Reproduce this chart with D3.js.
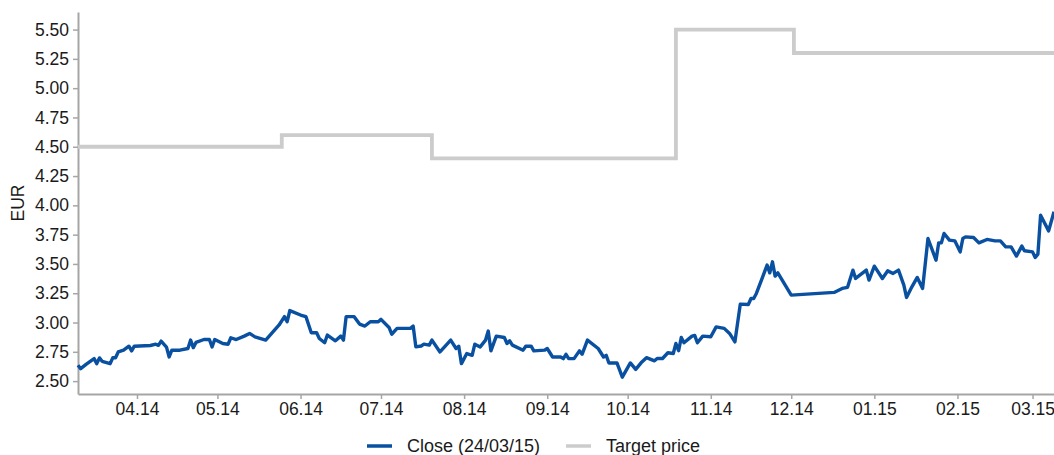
<!DOCTYPE html>
<html>
<head>
<meta charset="utf-8">
<script src="https://cdn.jsdelivr.net/npm/d3@7"></script>
<style>
  body { margin: 0; background: #fff; }
  svg text { font-family: "Liberation Sans", Arial, sans-serif; fill: #1a1a1a; }
</style>
</head>
<body>
<div id="chart"></div>
<script>
// closing prices
const closeDates = [
  "2014-03-10","2014-03-11","2014-03-13","2014-03-16","2014-03-17","2014-03-18","2014-03-19","2014-03-22","2014-03-23","2014-03-24",
  "2014-03-25","2014-03-27","2014-03-29","2014-03-30","2014-03-31","2014-04-06","2014-04-08","2014-04-09","2014-04-10","2014-04-12",
  "2014-04-13","2014-04-14","2014-04-17","2014-04-20","2014-04-21","2014-04-22","2014-04-23","2014-04-26","2014-04-28","2014-04-29",
  "2014-04-30","2014-05-03","2014-05-05","2014-05-06","2014-05-08","2014-05-11","2014-05-13","2014-05-15","2014-05-19","2014-05-24",
  "2014-05-26","2014-05-27","2014-05-28","2014-06-01","2014-06-03","2014-06-05","2014-06-07","2014-06-08","2014-06-10","2014-06-11",
  "2014-06-14","2014-06-16","2014-06-17","2014-06-18","2014-06-21","2014-06-23","2014-06-25","2014-06-27","2014-06-30","2014-07-01",
  "2014-07-04","2014-07-05","2014-07-07","2014-07-12","2014-07-13","2014-07-14","2014-07-16","2014-07-17","2014-07-19","2014-07-20",
  "2014-07-23","2014-07-27","2014-07-29","2014-07-30","2014-07-31","2014-08-02","2014-08-04","2014-08-05","2014-08-07","2014-08-09",
  "2014-08-10","2014-08-11","2014-08-13","2014-08-16","2014-08-17","2014-08-18","2014-08-19","2014-08-23","2014-08-24","2014-08-26",
  "2014-08-27","2014-08-31","2014-09-01","2014-09-03","2014-09-06","2014-09-07","2014-09-08","2014-09-09","2014-09-11","2014-09-13",
  "2014-09-14","2014-09-16","2014-09-20","2014-09-22","2014-09-23","2014-09-24","2014-09-27","2014-09-29","2014-10-02","2014-10-04",
  "2014-10-06","2014-10-08","2014-10-11","2014-10-12","2014-10-14","2014-10-16","2014-10-18","2014-10-19","2014-10-20","2014-10-21",
  "2014-10-22","2014-10-25","2014-10-26","2014-10-27","2014-10-29","2014-11-01","2014-11-03","2014-11-06","2014-11-08","2014-11-10",
  "2014-11-12","2014-11-15","2014-11-16","2014-11-17","2014-11-18","2014-11-20","2014-11-22","2014-11-23","2014-11-24","2014-11-25",
  "2014-11-26","2014-12-01","2014-12-17","2014-12-20","2014-12-22","2014-12-24","2014-12-25","2014-12-29","2014-12-30","2015-01-01",
  "2015-01-04","2015-01-06","2015-01-08","2015-01-10","2015-01-12","2015-01-13","2015-01-15","2015-01-17","2015-01-19","2015-01-21",
  "2015-01-24","2015-01-25","2015-01-26","2015-01-27","2015-01-29","2015-01-31","2015-02-02","2015-02-03","2015-02-04","2015-02-07",
  "2015-02-09","2015-02-12","2015-02-15","2015-02-17","2015-02-19","2015-02-21","2015-02-23","2015-02-25","2015-02-26","2015-03-01",
  "2015-03-02","2015-03-03","2015-03-04","2015-03-07","2015-03-09"
];
const closeValues = [
  2.635,2.606,2.643,2.692,2.649,2.698,2.669,2.649,2.70,2.70,
  2.749,2.764,2.798,2.758,2.798,2.804,2.815,2.805,2.841,2.79,
  2.706,2.764,2.764,2.778,2.85,2.786,2.83,2.855,2.855,2.792,
  2.855,2.821,2.815,2.87,2.855,2.884,2.907,2.878,2.85,2.979,
  3.05,3.007,3.102,3.064,3.05,2.913,2.913,2.864,2.827,2.893,
  2.844,2.884,2.85,3.05,3.05,2.987,2.97,3.007,3.007,3.027,
  2.958,2.90,2.95,2.95,2.97,2.792,2.80,2.815,2.807,2.85,
  2.749,2.85,2.778,2.798,2.649,2.735,2.72,2.815,2.792,2.85,
  2.927,2.758,2.884,2.872,2.821,2.844,2.807,2.764,2.798,2.798,
  2.758,2.764,2.778,2.706,2.706,2.692,2.729,2.692,2.692,2.758,
  2.729,2.85,2.778,2.706,2.72,2.655,2.655,2.534,2.655,2.60,
  2.656,2.70,2.673,2.693,2.693,2.742,2.736,2.821,2.759,2.873,
  2.827,2.884,2.89,2.827,2.884,2.878,2.963,2.95,2.907,2.835,
  3.157,3.154,3.205,3.205,3.248,3.368,3.49,3.424,3.518,3.396,
  3.424,3.234,3.257,3.291,3.30,3.447,3.376,3.447,3.362,3.481,
  3.376,3.441,3.419,3.447,3.319,3.214,3.305,3.385,3.291,3.717,
  3.532,3.68,3.68,3.76,3.703,3.697,3.603,3.717,3.731,3.726,
  3.68,3.709,3.697,3.697,3.646,3.646,3.567,3.652,3.612,3.603,
  3.555,3.584,3.916,3.782,3.945
];

// analyst target price (step changes)
const targetDates = ["2014-03-10","2014-05-25","2014-07-20","2014-10-19","2014-12-02","2015-03-09"];
const targetValues = [4.50, 4.60, 4.40, 5.50, 5.30, 5.30];

const yTicks = [2.50, 2.75, 3.00, 3.25, 3.50, 3.75, 4.00, 4.25, 4.50, 4.75, 5.00, 5.25, 5.50];
const seriesNames = ["Close (24/03/15)", "Target price"];
const seriesColors = ["#0a50a1", "#cccccc"];

const width = 1054, height = 455;
const margin = {top: 12, right: 0, bottom: 61, left: 78};

const parse = d3.timeParse("%Y-%m-%d");
const closeData = closeDates.map((d, i) => ({date: parse(d), value: closeValues[i]}));
const targetData = targetDates.map((d, i) => ({date: parse(d), value: targetValues[i]}));

const svg = d3.select("#chart").append("svg")
    .attr("width", width)
    .attr("height", height);

const x = d3.scaleTime()
    .domain([parse("2014-03-10"), parse("2015-03-09")])
    .range([margin.left, width - margin.right]);

const y = d3.scaleLinear()
    .domain([2.39, 5.65])
    .range([height - margin.bottom, margin.top]);

// axes
const xAxis = svg.append("g")
    .attr("transform", `translate(0,${height - margin.bottom})`)
    .call(d3.axisBottom(x)
        .ticks(d3.timeMonth.every(1))
        .tickFormat(d3.timeFormat("%m.%y"))
        .tickSize(5)
        .tickSizeOuter(0)
        .tickPadding(4));

const yAxis = svg.append("g")
    .attr("transform", `translate(${margin.left},0)`)
    .call(d3.axisLeft(y)
        .tickValues(yTicks)
        .tickFormat(d3.format(".2f"))
        .tickSize(5)
        .tickSizeOuter(0)
        .tickPadding(4));

[xAxis, yAxis].forEach(g => {
    g.select(".domain").attr("stroke", "#a6a6a6").attr("stroke-width", 2);
    g.selectAll(".tick line").attr("stroke", "#a6a6a6").attr("stroke-width", 1.5);
    g.selectAll(".tick text").attr("font-size", 17.5).attr("fill", "#1a1a1a")
        .style("font-family", "'Liberation Sans', Arial, sans-serif");
});

svg.append("text")
    .attr("transform", `translate(24,${(margin.top + height - margin.bottom) / 2}) rotate(-90)`)
    .attr("text-anchor", "middle")
    .attr("font-size", 17.5)
    .text("EUR");

// lines
const targetLine = d3.line()
    .x(d => x(d.date))
    .y(d => y(d.value))
    .curve(d3.curveStepAfter);

svg.append("path")
    .datum(targetData)
    .attr("fill", "none")
    .attr("stroke", seriesColors[1])
    .attr("stroke-width", 3.8)
    .attr("d", targetLine);

const closeLine = d3.line()
    .x(d => x(d.date))
    .y(d => y(d.value));

svg.append("path")
    .datum(closeData)
    .attr("fill", "none")
    .attr("stroke", seriesColors[0])
    .attr("stroke-width", 3.4)
    .attr("stroke-linejoin", "round")
    .attr("d", closeLine);

// legend
const legendX = [367, 566];
const legend = svg.append("g").attr("transform", "translate(0,446)");
seriesNames.forEach((name, i) => {
    legend.append("line")
        .attr("x1", legendX[i]).attr("x2", legendX[i] + 25)
        .attr("y1", 0).attr("y2", 0)
        .attr("stroke", seriesColors[i])
        .attr("stroke-width", 3.5);
    legend.append("text")
        .attr("x", legendX[i] + 40)
        .attr("y", 0)
        .attr("dy", "0.35em")
        .attr("font-size", 18)
        .text(name);
});
</script>
</body>
</html>
